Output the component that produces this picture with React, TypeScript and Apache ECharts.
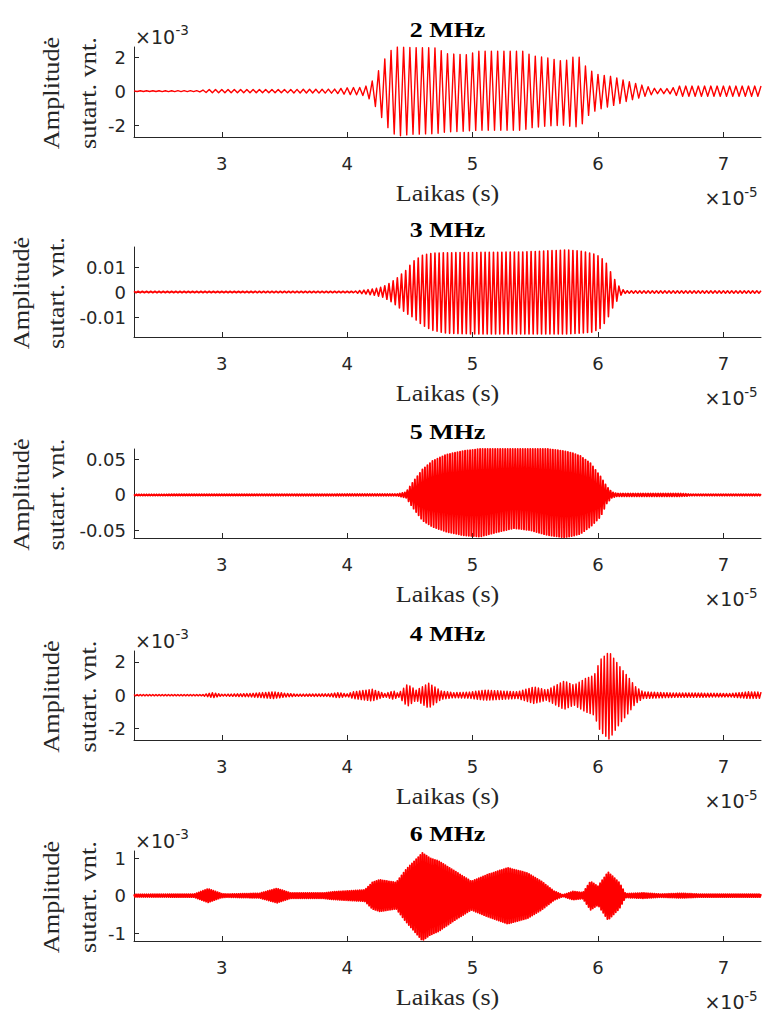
import React, { useEffect, useRef } from "react";
import * as echarts from "echarts";

// ---------- data (time in units of 1e-5 s) ----------
const X_MIN = 2.3;
const X_MAX = 7.3;
const X_TICKS = [3, 4, 5, 6, 7];

const PANEL_TITLES = ["2 MHz", "3 MHz", "5 MHz", "4 MHz", "6 MHz"];
const CARRIER_MHZ = [2, 3, 5, 4, 6];
const Y_MIN = [-2.7, -0.018, -0.061, -2.7, -1.21];
const Y_MAX = [2.6, 0.018, 0.065, 2.66, 1.19];
const Y_TICKS_2MHZ = [-2, 0, 2];
const Y_TICKS_3MHZ = [-0.01, 0, 0.01];
const Y_TICKS_5MHZ = [-0.05, 0, 0.05];
const Y_TICKS_4MHZ = [-2, 0, 2];
const Y_TICKS_6MHZ = [-1, 0, 1];
const Y_EXPONENT = ["-3", "", "", "-3", "-3"];
const X_EXPONENT = "-5";

// envelope knots (upper and lower amplitude)
const T_2MHZ = [2.3, 2.8, 2.9, 3.5, 3.9, 4.0, 4.1, 4.15, 4.2, 4.25, 4.3, 4.35, 4.4, 4.5, 4.7, 4.8, 4.95, 5.05, 5.4, 5.47, 5.6, 5.73, 5.8, 5.86, 5.91, 5.99, 6.12, 6.25, 6.38, 6.46, 6.57, 6.65, 7.3];
const UP_2MHZ = [0.02, 0.03, 0.1, 0.1, 0.12, 0.2, 0.22, 0.3, 0.6, 1.2, 1.9, 2.4, 2.6, 2.57, 2.55, 2.2, 2.15, 2.35, 2.35, 2.1, 1.95, 1.75, 2.0, 2.0, 1.35, 1.0, 0.85, 0.55, 0.3, 0.15, 0.15, 0.3, 0.3];
const LO_2MHZ = [0.02, 0.03, 0.1, 0.1, 0.12, 0.2, 0.22, 0.3, 0.6, 1.2, 1.9, 2.4, 2.65, 2.55, 2.5, 2.4, 2.35, 2.3, 2.3, 2.15, 2.05, 2.0, 2.1, 2.1, 1.5, 1.1, 0.85, 0.55, 0.3, 0.15, 0.15, 0.3, 0.3];

const T_3MHZ = [2.3, 4.05, 4.15, 4.22, 4.28, 4.34, 4.39, 4.47, 4.52, 4.6, 4.68, 4.79, 5.0, 5.4, 5.75, 5.86, 5.96, 6.02, 6.07, 6.12, 6.18, 6.22, 7.3];
const UP_3MHZ = [0.0003, 0.0003, 0.0008, 0.0013, 0.002, 0.0035, 0.0053, 0.0087, 0.012, 0.0147, 0.0155, 0.0157, 0.0158, 0.016, 0.0168, 0.0164, 0.0153, 0.014, 0.0113, 0.006, 0.0013, 0.0005, 0.0005];
const LO_3MHZ = [0.0003, 0.0003, 0.0008, 0.0013, 0.002, 0.0035, 0.0053, 0.0085, 0.01, 0.0133, 0.0153, 0.0165, 0.0168, 0.0168, 0.0168, 0.0165, 0.016, 0.0145, 0.0113, 0.006, 0.0013, 0.0005, 0.0005];

const T_5MHZ = [2.3, 4.4, 4.47, 4.52, 4.6, 4.68, 4.79, 4.92, 5.06, 5.19, 5.33, 5.46, 5.6, 5.73, 5.8, 5.86, 5.94, 6.02, 6.07, 6.11, 6.15, 6.65, 6.75, 7.3];
const UP_5MHZ = [0.0008, 0.0012, 0.004, 0.017, 0.036, 0.048, 0.057, 0.062, 0.065, 0.065, 0.065, 0.065, 0.065, 0.062, 0.059, 0.055, 0.045, 0.026, 0.012, 0.004, 0.002, 0.002, 0.001, 0.001];
const LO_5MHZ = [0.0008, 0.0012, 0.004, 0.017, 0.036, 0.045, 0.052, 0.057, 0.059, 0.053, 0.047, 0.05, 0.057, 0.06, 0.058, 0.055, 0.045, 0.031, 0.012, 0.004, 0.002, 0.002, 0.001, 0.001];

const T_4MHZ = [2.3, 2.85, 2.93, 3.0, 3.23, 3.41, 3.5, 3.6, 3.85, 3.93, 4.0, 4.05, 4.2, 4.3, 4.37, 4.41, 4.48, 4.55, 4.65, 4.75, 4.85, 4.97, 5.1, 5.36, 5.49, 5.59, 5.73, 5.81, 5.9, 5.97, 6.02, 6.09, 6.17, 6.23, 6.3, 6.36, 6.6, 6.75, 7.05, 7.2, 7.3];
const UP_4MHZ = [0.04, 0.04, 0.15, 0.05, 0.1, 0.2, 0.12, 0.06, 0.08, 0.15, 0.08, 0.2, 0.35, 0.1, 0.25, 0.1, 0.65, 0.3, 0.72, 0.25, 0.15, 0.18, 0.3, 0.2, 0.5, 0.3, 0.85, 0.6, 1.0, 1.2, 2.15, 2.6, 1.75, 1.2, 0.5, 0.2, 0.13, 0.13, 0.1, 0.2, 0.18];
const LO_4MHZ = [0.04, 0.04, 0.15, 0.05, 0.1, 0.2, 0.12, 0.06, 0.08, 0.15, 0.08, 0.2, 0.35, 0.1, 0.25, 0.1, 0.68, 0.3, 0.78, 0.25, 0.15, 0.18, 0.3, 0.2, 0.5, 0.3, 0.85, 0.6, 1.0, 1.2, 2.2, 2.65, 1.75, 1.2, 0.5, 0.2, 0.13, 0.13, 0.1, 0.2, 0.18];

const T_6MHZ = [2.3, 2.78, 2.89, 3.0, 3.04, 3.3, 3.44, 3.55, 3.81, 3.88, 4.14, 4.2, 4.26, 4.39, 4.47, 4.6, 4.66, 4.73, 4.86, 4.99, 5.12, 5.28, 5.44, 5.55, 5.65, 5.72, 5.8, 5.88, 5.94, 6.0, 6.08, 6.17, 6.22, 6.36, 6.5, 6.67, 6.8, 7.3];
const UP_6MHZ = [0.035, 0.04, 0.18, 0.05, 0.04, 0.06, 0.19, 0.07, 0.07, 0.1, 0.15, 0.35, 0.42, 0.35, 0.7, 1.14, 1.0, 0.92, 0.65, 0.38, 0.56, 0.74, 0.6, 0.38, 0.12, 0.02, 0.11, 0.08, 0.38, 0.25, 0.63, 0.35, 0.05, 0.07, 0.04, 0.06, 0.04, 0.04];
const LO_6MHZ = [0.035, 0.04, 0.18, 0.05, 0.04, 0.06, 0.19, 0.07, 0.07, 0.1, 0.15, 0.35, 0.42, 0.35, 0.7, 1.2, 1.05, 0.95, 0.65, 0.38, 0.56, 0.75, 0.6, 0.38, 0.12, 0.02, 0.11, 0.08, 0.38, 0.25, 0.65, 0.35, 0.05, 0.07, 0.04, 0.06, 0.04, 0.04];

const ENV_T = [T_2MHZ, T_3MHZ, T_5MHZ, T_4MHZ, T_6MHZ];
const ENV_UP = [UP_2MHZ, UP_3MHZ, UP_5MHZ, UP_4MHZ, UP_6MHZ];
const ENV_LO = [LO_2MHZ, LO_3MHZ, LO_5MHZ, LO_4MHZ, LO_6MHZ];
const Y_TICKS = [Y_TICKS_2MHZ, Y_TICKS_3MHZ, Y_TICKS_5MHZ, Y_TICKS_4MHZ, Y_TICKS_6MHZ];

// ---------- layout / style ----------
const GRID_LEFT = 134;
const GRID_WIDTH = 627;
const GRID_TOPS = [47, 247, 449, 651, 851];
const GRID_HEIGHTS = [90, 90, 89, 89, 90];
const LINE_WIDTHS = [1.4, 1.6, 1.9, 1.5, 1.9];
const YLABEL_X = [
  [51.3, 88.3],
  [21.3, 56.3],
  [21.3, 56.3],
  [51.3, 88.3],
  [51.3, 88.3],
];

const INK = "#262626";
const SERIF = "Liberation Serif";
const SANS = "DejaVu Sans";

function envAt(ts: number[], vs: number[], t: number): number {
  if (t <= ts[0]) return vs[0];
  for (let i = 1; i < ts.length; i++) {
    if (t <= ts[i]) {
      const f = (t - ts[i - 1]) / (ts[i] - ts[i - 1]);
      return vs[i - 1] + f * (vs[i] - vs[i - 1]);
    }
  }
  return vs[vs.length - 1];
}

// alternate between upper and lower envelope at every half period of the carrier
function buildTrace(ts: number[], up: number[], lo: number[], mhz: number): number[][] {
  const half = 0.05 / mhz; // half period in units of 1e-5 s
  const pts: number[][] = [];
  for (let k = 0; ; k++) {
    const t = X_MIN + k * half;
    if (t > X_MAX + 1e-9) break;
    pts.push([t, k % 2 === 0 ? envAt(ts, up, t) : -envAt(ts, lo, t)]);
  }
  return pts;
}

function txt(x: number, y: number, text: string, opts: any, extra: any = {}) {
  return {
    type: "text",
    x,
    y,
    silent: true,
    ...extra,
    style: { text, fill: INK, verticalAlign: "middle", ...opts },
  };
}

function buildOption() {
  const n = PANEL_TITLES.length;
  const grids: any[] = [];
  const xAxes: any[] = [];
  const yAxes: any[] = [];
  const series: any[] = [];
  const graphics: any[] = [];
  const cx = GRID_LEFT + GRID_WIDTH / 2;
  const right = GRID_LEFT + GRID_WIDTH;

  for (let i = 0; i < n; i++) {
    const top = GRID_TOPS[i];
    const h = GRID_HEIGHTS[i];
    const bottom = top + h;
    grids.push({ left: GRID_LEFT, top, width: GRID_WIDTH, height: h, containLabel: false, outerBoundsMode: "none" });
    xAxes.push({
      type: "value",
      gridIndex: i,
      min: X_MIN,
      max: X_MAX,
      axisLine: { show: true, onZero: false, lineStyle: { color: INK, width: 1 } },
      axisTick: { show: true, inside: true, length: 5, customValues: X_TICKS, lineStyle: { color: INK, width: 1 } },
      axisLabel: {
        show: true,
        customValues: X_TICKS,
        margin: 17,
        fontFamily: SANS,
        fontSize: 18,
        color: INK,
        formatter: (v: number) => String(v),
      },
      splitLine: { show: false },
    });
    yAxes.push({
      type: "value",
      gridIndex: i,
      min: Y_MIN[i],
      max: Y_MAX[i],
      axisLine: { show: true, onZero: false, lineStyle: { color: INK, width: 1 } },
      axisTick: { show: true, inside: true, length: 5, customValues: Y_TICKS[i], lineStyle: { color: INK, width: 1 } },
      axisLabel: {
        show: true,
        customValues: Y_TICKS[i],
        margin: 8,
        fontFamily: SANS,
        fontSize: 18,
        color: INK,
        formatter: (v: number) => String(Math.round(v * 1000) / 1000),
      },
      splitLine: { show: false },
    });
    series.push({
      type: "line",
      xAxisIndex: i,
      yAxisIndex: i,
      data: buildTrace(ENV_T[i], ENV_UP[i], ENV_LO[i], CARRIER_MHZ[i]),
      symbol: "none",
      showSymbol: false,
      silent: true,
      lineStyle: { color: "#ff0000", width: LINE_WIDTHS[i], join: "round" },
    });

    // title
    graphics.push(
      txt(cx, top - 17.7, PANEL_TITLES[i], { fontFamily: SERIF, fontSize: 22, fontWeight: "bold", fill: "#000", align: "center" }, { scaleX: 1.18 })
    );
    // x label
    graphics.push(
      txt(cx, bottom + 56, "Laikas (s)", { fontFamily: SERIF, fontSize: 22.5, align: "center" }, { scaleX: 1.16 })
    );
    // y label (two lines)
    const ylabels = ["Amplitudė", "sutart. vnt."];
    for (let j = 0; j < 2; j++) {
      graphics.push(
        txt(YLABEL_X[i][j], top + h / 2 + 1, ylabels[j], { fontFamily: SERIF, fontSize: 22.5, align: "center" }, { rotation: Math.PI / 2, scaleX: 1.17 })
      );
    }
    // y exponent
    if (Y_EXPONENT[i]) {
      graphics.push(txt(GRID_LEFT + 1, top - 10.5, "×10", { fontFamily: SANS, fontSize: 19, align: "left" }));
      graphics.push(txt(GRID_LEFT + 41.5, top - 17, Y_EXPONENT[i], { fontFamily: SANS, fontSize: 13.5, align: "left" }));
    }
    // x exponent
    graphics.push(txt(right - 16.5, bottom + 61, "×10", { fontFamily: SANS, fontSize: 19, align: "right" }));
    graphics.push(txt(right - 16.8, bottom + 54.5, X_EXPONENT, { fontFamily: SANS, fontSize: 13.5, align: "left" }));
  }

  return {
    animation: false,
    backgroundColor: "#ffffff",
    textStyle: { fontFamily: SANS },
    grid: grids,
    xAxis: xAxes,
    yAxis: yAxes,
    series,
    graphic: { elements: graphics },
  };
}

export default function App() {
  const ref = useRef<HTMLDivElement>(null);
  useEffect(() => {
    if (!ref.current) return;
    const chart = echarts.init(ref.current, undefined, { renderer: "svg", width: 765, height: 1012 });
    chart.setOption(buildOption() as any);
    return () => chart.dispose();
  }, []);
  return (
    <div
      ref={ref}
      style={{ position: "absolute", left: 0, top: 0, width: 765, height: 1012, background: "#fff" }}
    />
  );
}
